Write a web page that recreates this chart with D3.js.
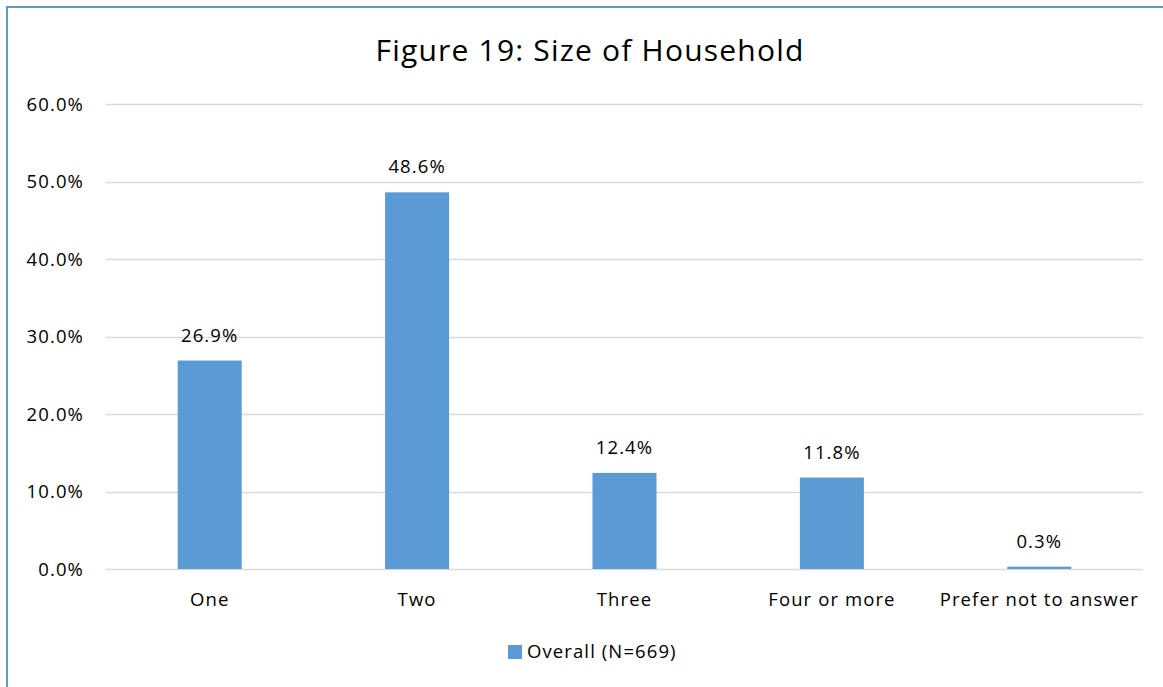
<!DOCTYPE html>
<html>
<head>
<meta charset="utf-8">
<script src="https://cdn.jsdelivr.net/npm/d3@7"></script>
<style>
  html, body { margin: 0; padding: 0; background: #fff; }
  svg { display: block; }
  text { font-family: "Open Sans", "Noto Sans", sans-serif; fill: #000; }
</style>
</head>
<body>
<svg id="chart" width="1163" height="687"></svg>
<script>
// Household size distribution
const categories = ["One", "Two", "Three", "Four or more", "Prefer not to answer"];
const values = [26.9, 48.6, 12.4, 11.8, 0.3];
const tickValues = [0, 10, 20, 30, 40, 50, 60];
const seriesName = "Overall (N=669)";
const title = "Figure 19: Size of Household";

const W = 1163, H = 687;
const FS = 18.5, LS = "1.1px";
const svg = d3.select("#chart");

// chart frame: blue left and top edges
svg.append("line").attr("x1", 7).attr("x2", 7).attr("y1", 6).attr("y2", H)
  .attr("stroke", "#5B9BD5").attr("stroke-width", 2);
svg.append("line").attr("x1", 6).attr("x2", W).attr("y1", 7).attr("y2", 7)
  .attr("stroke", "#5B9BD5").attr("stroke-width", 2);

const x = d3.scaleBand().domain(categories).range([106, 1143]).paddingInner(0).paddingOuter(0);
const y = d3.scaleLinear().domain([0, 60]).range([569, 104]);

// gridlines
svg.append("g").selectAll("line").data(tickValues).join("line")
  .attr("x1", 106).attr("x2", 1143)
  .attr("y1", d => Math.round(y(d)) + 0.5).attr("y2", d => Math.round(y(d)) + 0.5)
  .attr("stroke", "#D9D9D9").attr("stroke-width", 1.5);

// y axis labels
const yAxis = d3.axisLeft(y).tickValues(tickValues).tickFormat(d => d3.format(".1f")(d) + "%").tickSize(0).tickPadding(0);
const gy = svg.append("g").attr("transform", "translate(84,0)").call(yAxis);
gy.select(".domain").remove();
gy.selectAll("text").attr("font-size", FS).style("font-family", '"Open Sans", sans-serif')
  .style("letter-spacing", LS).attr("fill", "#000").attr("dy", "0.35em");

// bars
const barW = 64;
svg.append("g").selectAll("rect").data(values).join("rect")
  .attr("x", (d, i) => x(categories[i]) + x.bandwidth() / 2 - barW / 2)
  .attr("width", barW)
  .attr("y", d => y(d))
  .attr("height", d => y(0) - y(d))
  .attr("fill", "#5B9BD5");

// value labels
svg.append("g").selectAll("text").data(values).join("text")
  .attr("x", (d, i) => x(categories[i]) + x.bandwidth() / 2)
  .attr("y", d => y(d) - 19)
  .attr("text-anchor", "middle")
  .attr("font-size", FS)
  .style("letter-spacing", LS)
  .text(d => d3.format(".1f")(d) + "%");

// x axis labels
const xAxis = d3.axisBottom(x).tickSize(0).tickPadding(0);
const gx = svg.append("g").attr("transform", "translate(0,600)").call(xAxis);
gx.select(".domain").remove();
gx.selectAll("text").attr("font-size", FS).style("font-family", '"Open Sans", sans-serif')
  .style("letter-spacing", LS).attr("fill", "#000").attr("dy", "0.35em");

// title
svg.append("text").attr("x", 590).attr("y", 61).attr("text-anchor", "middle")
  .attr("font-size", 30).style("letter-spacing", "1.2px").text(title);

// legend
svg.append("rect").attr("x", 508).attr("y", 645).attr("width", 14).attr("height", 14).attr("fill", "#5B9BD5");
svg.append("text").attr("x", 527).attr("y", 652).attr("dy", "0.35em").attr("font-size", FS)
  .style("letter-spacing", LS).text(seriesName);
</script>
</body>
</html>
